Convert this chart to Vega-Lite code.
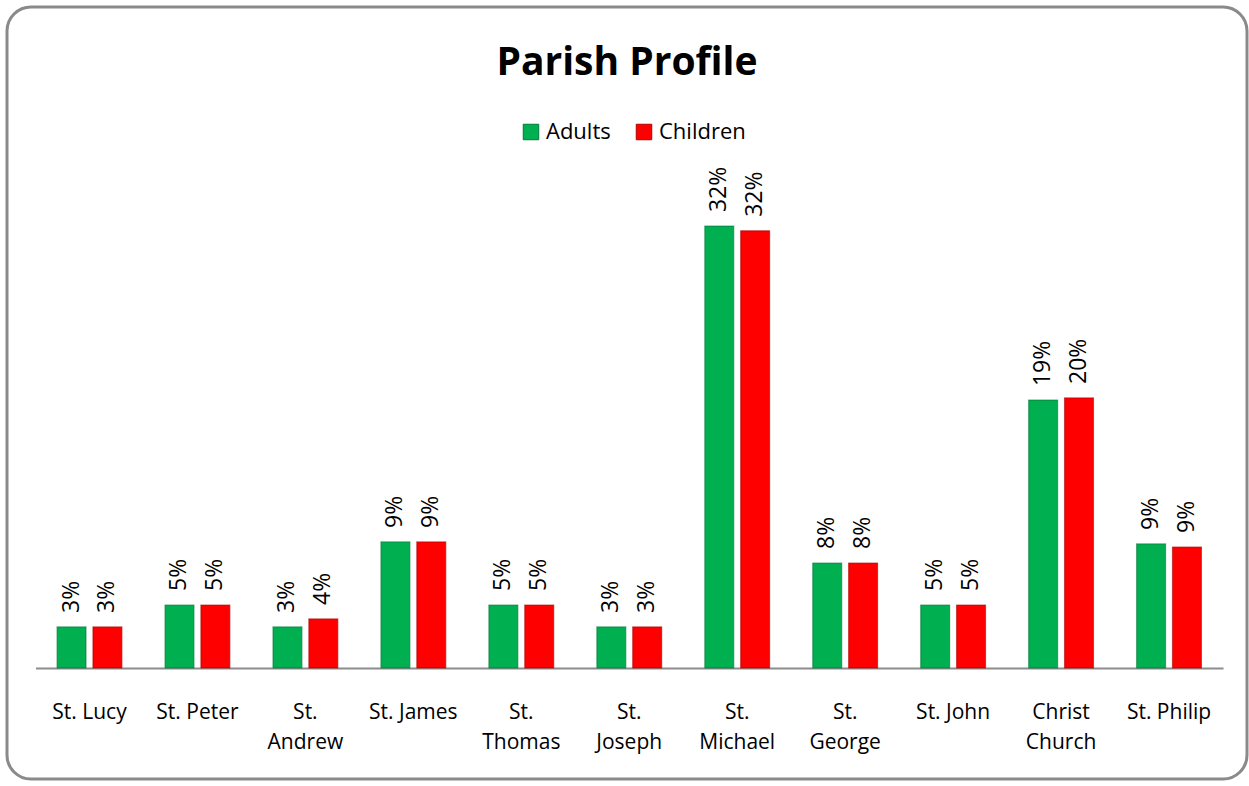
{
  "$schema": "https://vega.github.io/schema/vega-lite/v6.json",
  "width": 1240,
  "height": 772,
  "autosize": {"type": "none"},
  "padding": {"left": 7, "top": 7, "right": 2, "bottom": 7},
  "background": "white",
  "config": {
    "font": "Lato",
    "view": {"stroke": "#8a8a8a", "strokeWidth": 3, "cornerRadius": 24, "fill": "white"}
  },
  "title": {
    "text": "Parish Profile",
    "fontSize": 39,
    "fontWeight": "bold",
    "color": "#000000",
    "font": "Open Sans",
    "anchor": "middle",
    "frame": "group",
    "orient": "top",
    "baseline": "middle",
    "offset": -95
  },
  "data": {
    "values": [
      {"parish": "St. Lucy", "group": "Adults", "share": 0.0297},
      {"parish": "St. Lucy", "group": "Children", "share": 0.0297},
      {"parish": "St. Peter", "group": "Adults", "share": 0.0456},
      {"parish": "St. Peter", "group": "Children", "share": 0.0456},
      {"parish": "St. Andrew", "group": "Adults", "share": 0.0297},
      {"parish": "St. Andrew", "group": "Children", "share": 0.0355},
      {"parish": "St. James", "group": "Adults", "share": 0.0913},
      {"parish": "St. James", "group": "Children", "share": 0.0913},
      {"parish": "St. Thomas", "group": "Adults", "share": 0.0456},
      {"parish": "St. Thomas", "group": "Children", "share": 0.0456},
      {"parish": "St. Joseph", "group": "Adults", "share": 0.0297},
      {"parish": "St. Joseph", "group": "Children", "share": 0.0297},
      {"parish": "St. Michael", "group": "Adults", "share": 0.32},
      {"parish": "St. Michael", "group": "Children", "share": 0.3165},
      {"parish": "St. George", "group": "Adults", "share": 0.076},
      {"parish": "St. George", "group": "Children", "share": 0.076},
      {"parish": "St. John", "group": "Adults", "share": 0.0456},
      {"parish": "St. John", "group": "Children", "share": 0.0456},
      {"parish": "Christ Church", "group": "Adults", "share": 0.194},
      {"parish": "Christ Church", "group": "Children", "share": 0.1955},
      {"parish": "St. Philip", "group": "Adults", "share": 0.0898},
      {"parish": "St. Philip", "group": "Children", "share": 0.0876}
    ]
  },
  "encoding": {
    "x": {
      "field": "parish",
      "type": "nominal",
      "sort": null,
      "title": null,
      "scale": {"range": [28.5, 1216], "paddingInner": 0.4, "paddingOuter": 0.2},
      "axis": {
        "orient": "bottom",
        "offset": -111,
        "labelAngle": 0,
        "ticks": false,
        "domainColor": "#8c8c8c",
        "domainWidth": 2,
        "labelFontSize": 21,
        "labelColor": "#000000",
        "labelPadding": 33,
        "labelLineHeight": 30,
        "labelBaseline": "top",
        "labelFont": "Open Sans",
        "labelExpr": "indexof(['St. Lucy','St. Peter','St. James','St. John','St. Philip'], datum.label) >= 0 ? datum.label : split(datum.label, ' ')"
      }
    },
    "xOffset": {
      "field": "group",
      "type": "nominal",
      "scale": {"paddingInner": 0.194, "paddingOuter": 0}
    },
    "y": {
      "field": "share",
      "type": "quantitative",
      "scale": {"domain": [-0.0804, 0.4786], "nice": false, "zero": false},
      "axis": null
    }
  },
  "layer": [
    {
      "mark": {"type": "bar", "strokeWidth": 1.2, "strokeOpacity": 0.6},
      "encoding": {
        "fill": {
          "field": "group",
          "type": "nominal",
          "title": null,
          "scale": {"domain": ["Adults", "Children"], "range": ["#00B050", "#FF0000"]},
          "legend": {
            "orient": "none",
            "legendX": 513,
            "legendY": 114,
            "direction": "horizontal",
            "symbolType": "square",
            "symbolSize": 240,
            "symbolStrokeWidth": 1,
            "labelFontSize": 22,
            "labelFont": "Open Sans",
            "labelColor": "#000000",
            "columnPadding": 22,
            "labelOffset": 4
          }
        },
        "stroke": {
          "field": "group",
          "type": "nominal",
          "scale": {"domain": ["Adults", "Children"], "range": ["#007a38", "#b00000"]},
          "legend": null
        }
      }
    },
    {
      "mark": {"type": "text", "angle": 270, "align": "left", "baseline": "middle", "dx": 14, "fontSize": 23, "font": "Open Sans", "color": "#000000"},
      "encoding": {
        "text": {"field": "share", "type": "quantitative", "format": ".0%"}
      }
    }
  ]
}
